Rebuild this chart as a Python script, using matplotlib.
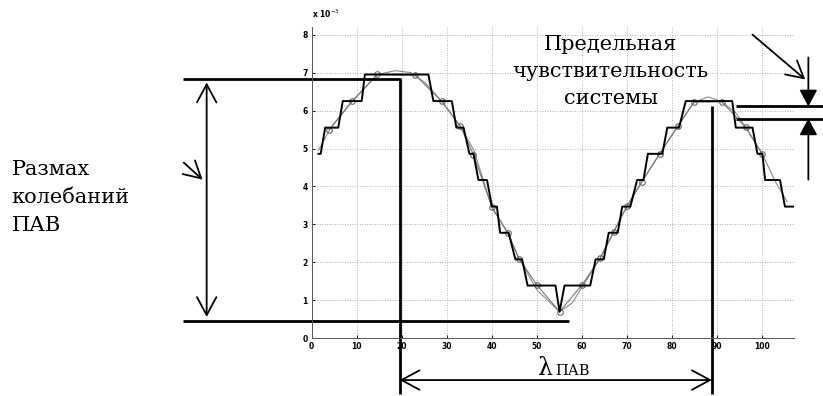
import numpy as np
import matplotlib.pyplot as plt
from matplotlib.patches import ArrowStyle

# quantized (step) signal
step_x = [1.5, 2, 3, 5.9, 6.9, 11.1, 11.8, 25.9, 27, 31.1, 32.1, 33.7, 35, 35.9,
          37, 38.9, 40, 41.1, 41.8, 43.7, 45.2, 46.7, 47.9, 54.1, 55, 56.1, 61.8,
          63, 64.8, 65.9, 67.9, 68.9, 70.7, 72.2, 73.6, 74.6, 77.8, 78.9, 81.5,
          83, 93.3, 94.1, 97.8, 98.9, 100, 100.6, 103.9, 105, 107]
step_y = [4.86, 4.86, 5.55, 5.55, 6.25, 6.25, 6.95, 6.95, 6.25, 6.25, 5.55, 5.55,
          4.86, 4.86, 4.17, 4.17, 3.47, 3.47, 2.78, 2.78, 2.08, 2.08, 1.39, 1.39,
          0.70, 1.39, 1.39, 2.08, 2.08, 2.78, 2.78, 3.47, 3.47, 4.17, 4.17, 4.86,
          4.86, 5.55, 5.55, 6.25, 6.25, 5.55, 5.55, 4.86, 4.86, 4.17, 4.17, 3.47,
          3.47]

# sampled points (circles)
samp_x = [3.9, 8.9, 14.6, 23, 28.9, 33, 35.9, 40, 43.5, 46, 50, 55, 60, 64, 67,
          70, 73.3, 77.2, 81.2, 84.8, 91, 96.3, 100]
samp_y = [5.5, 6.24, 6.95, 6.93, 6.24, 5.58, 4.84, 3.45, 2.78, 2.1, 1.4, 0.7,
          1.41, 2.11, 2.8, 3.49, 4.13, 4.86, 5.58, 6.22, 6.23, 5.56, 4.85]

# original (smooth) signal
sig_x = [1.5, 4, 9, 14.6, 18.5, 22, 25, 28.9, 33, 36, 40, 43.5, 46, 50, 53, 55,
         57.8, 60, 64, 67, 70, 73.3, 77.2, 81.2, 84.8, 88, 91, 94, 96.3, 100,
         103, 105.5]
sig_y = [4.95, 5.5, 6.24, 6.95, 7.05, 7.0, 6.75, 6.24, 5.58, 4.95, 3.45, 2.78,
         2.1, 1.27, 0.93, 0.7, 0.93, 1.35, 2.11, 2.8, 3.49, 4.13, 4.86, 5.58,
         6.22, 6.36, 6.23, 5.95, 5.56, 4.85, 4.1, 3.6]

x_ticks = [0, 10, 20, 30, 40, 50, 60, 70, 80, 90, 100]
y_ticks = [0, 1, 2, 3, 4, 5, 6, 7, 8]

# levels used by the annotations
top_level = 6.82
bottom_level = 0.46
peak1_x = 19.5
peak2_x = 88.8
sens_hi = 6.11
sens_lo = 5.79

fig = plt.figure(figsize=(8.23, 3.96), dpi=100)
ax = fig.add_axes([0.3787, 0.1457, 0.586, 0.786])

ax.plot(sig_x, sig_y, color='#8a8a8a', lw=0.8)
ax.plot(samp_x, samp_y, color='#777777', lw=0.8, marker='o', ms=4,
        mfc='none', mec='#666666', mew=0.8)
ax.plot(step_x, step_y, color='black', lw=1.4)

ax.set_xlim(0, 107)
ax.set_ylim(0, 8.2)
ax.set_xticks(x_ticks)
ax.set_yticks(y_ticks)
ax.tick_params(direction='in', length=2, width=0.6, labelsize=5.5, pad=3)
for lab in ax.get_xticklabels() + ax.get_yticklabels():
    lab.set_fontweight('bold')
ax.grid(True, linestyle=(0, (1, 2)), color='#999999', lw=0.6)
for s in ['top', 'right']:
    ax.spines[s].set_visible(False)
for s in ['left', 'bottom']:
    ax.spines[s].set_color('#555555')
    ax.spines[s].set_linewidth(0.7)
ax.text(0, 8.45, r'x 10$^{-3}$', fontsize=5.5, fontweight='bold', ha='left')

# annotation lines (outside the axes, in data units)
lk = dict(color='black', lw=2.0, clip_on=False, solid_capstyle='butt')
ax.plot([-28.6, peak1_x, peak1_x], [top_level, top_level, -1.47], **lk)
ax.plot([-28.6, 57], [bottom_level, bottom_level], **lk)
ax.plot([peak2_x, peak2_x], [sens_hi, -1.47], **lk)
ax.plot([94.1, 113.6], [sens_hi, sens_hi], **lk)
ax.plot([94.1, 113.6], [sens_lo, sens_lo], **lk)

open2 = ArrowStyle('<->', head_length=0.65, head_width=0.35)
open1 = ArrowStyle('->', head_length=0.6, head_width=0.33)
filled = ArrowStyle('-|>', head_length=0.5, head_width=0.27)

def arrow(p_from, p_to, style, lw=1.3):
    ax.annotate('', xy=p_to, xytext=p_from, annotation_clip=False,
                arrowprops=dict(arrowstyle=style, lw=lw, color='black',
                                mutation_scale=20, shrinkA=0, shrinkB=0))

arrow((-23.3, bottom_level + 0.1), (-23.3, top_level - 0.08), open2)
arrow((peak1_x, -1.1), (peak2_x, -1.1), open2)
arrow((-28.4, 4.63), (-24.2, 4.18), open1)
arrow((97.8, 8.0), (109.5, 6.82), open1)
arrow((110.2, 7.4), (110.2, sens_hi), filled)
arrow((110.2, 4.18), (110.2, sens_lo), filled)

serif = 'DejaVu Serif'
ax.text(-66.6, 3.70, 'Размах\nколебаний\nПАВ', fontsize=15, family=serif,
        ha='left', va='center', linespacing=1.6)
ax.text(66.3, 7.03, 'Предельная\nчувствительность\nсистемы', fontsize=15,
        family=serif, ha='center', va='center', linespacing=1.55)
ax.text(50.3, -0.97, 'λ', fontsize=17, family=serif, ha='left', va='baseline')
ax.text(54.1, -0.97, 'ПАВ', fontsize=10.5, family=serif, ha='left',
        va='baseline')

fig.savefig('out.png', dpi=100)
